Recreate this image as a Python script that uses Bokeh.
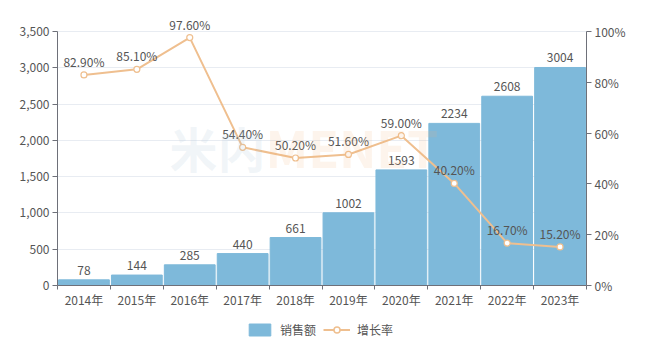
from bokeh.plotting import figure
from bokeh.layouts import column
from bokeh.models import (Range1d, LinearAxis, FixedTicker, NumeralTickFormatter,
                          ColumnDataSource, Legend, LegendItem, Label)
from bokeh.embed import file_html
from bokeh.resources import INLINE
from bokeh.core.properties import value

categories = ["2014年", "2015年", "2016年", "2017年", "2018年",
              "2019年", "2020年", "2021年", "2022年", "2023年"]
sales = [78, 144, 285, 440, 661, 1002, 1593, 2234, 2608, 3004]
growth = [82.9, 85.1, 97.6, 54.4, 50.2, 51.6, 59.0, 40.2, 16.7, 15.2]
left_ticks = [0, 500, 1000, 1500, 2000, 2500, 3000, 3500]
right_ticks = [0, 20, 40, 60, 80, 100]
series_names = ["销售额", "增长率"]

FONT = "Noto Sans CJK SC"
BAR = "#7EB9DA"
LINE = "#EFBF8F"
AX = "#6E7079"
TXT = "#555555"

# layout: axis top (3500 / 100%) at y=31, zero at y=285, frame top at y=8
PLOT_H = 285 - 8
AXIS_H = 285 - 31
left_max = left_ticks[-1]
right_max = right_ticks[-1]

idx = list(range(len(categories)))
src = ColumnDataSource(dict(
    x=[i + 0.5 for i in idx],
    sales=sales,
    sales_lbl=[str(v) for v in sales],
    growth=growth,
    growth_lbl=["%.2f%%" % v for v in growth],
))

p = figure(width=650, height=318, output_backend="svg", toolbar_location=None,
           x_range=Range1d(0, len(categories)),
           y_range=Range1d(0, left_max * PLOT_H / AXIS_H),
           min_border_left=57, min_border_right=64, min_border_top=8, min_border_bottom=33)
p.outline_line_color = None
p.background_fill_color = "white"
p.border_fill_color = "white"

p.extra_y_ranges = {"pct": Range1d(0, right_max * PLOT_H / AXIS_H)}

# watermark
p.add_layout(Label(x=112, y=104, x_units="screen", y_units="screen", text="米内",
                   text_font=FONT, text_font_size="48px", text_font_style="bold",
                   text_color="#A9C4D6", text_alpha=0.16))
p.add_layout(Label(x=208, y=104, x_units="screen", y_units="screen", text="MENET",
                   text_font=FONT, text_font_size="50px", text_font_style="bold",
                   text_color="#F4B27A", text_alpha=0.14))

bars = p.vbar(x="x", top="sales", width=0.96, source=src, color=BAR)
p.text(x="x", y="sales", text="sales_lbl", source=src, y_offset=-5,
       text_align="center", text_baseline="bottom", text_font=value(FONT),
       text_font_size="12px", text_color=TXT)

ln = p.line(x="x", y="growth", source=src, y_range_name="pct", color=LINE, line_width=2)
mk = p.scatter(x="x", y="growth", source=src, y_range_name="pct", size=6,
               line_color=LINE, fill_color="white", line_width=1.2)
p.text(x="x", y="growth", text="growth_lbl", source=src, y_range_name="pct", y_offset=-5,
       text_align="center", text_baseline="bottom", text_font=value(FONT),
       text_font_size="12px", text_color=TXT)

# axes
xa = p.xaxis[0]
xa.ticker = FixedTicker(ticks=[i + 0.5 for i in idx], minor_ticks=list(range(len(categories) + 1)))
xa.major_label_overrides = {i + 0.5: c for i, c in zip(idx, categories)}
xa.major_tick_line_color = None
xa.major_tick_out = 0
xa.major_tick_in = 0
xa.minor_tick_line_color = AX
xa.minor_tick_out = 4
xa.minor_tick_in = 0
xa.axis_line_color = AX
xa.major_label_text_font = FONT
xa.major_label_text_font_size = "12px"
xa.major_label_text_color = TXT
xa.major_label_standoff = 1

ya = p.yaxis[0]
ya.bounds = (0, left_max)
ya.ticker = FixedTicker(ticks=left_ticks)
ya.formatter = NumeralTickFormatter(format="0,0")
ya.axis_line_color = AX
ya.major_tick_line_color = AX
ya.major_tick_out = 5
ya.major_tick_in = 0
ya.minor_tick_line_color = None
ya.major_label_text_font = FONT
ya.major_label_text_font_size = "12px"
ya.major_label_text_color = TXT
ya.major_label_standoff = 3

ra = LinearAxis(y_range_name="pct", ticker=FixedTicker(ticks=right_ticks),
                bounds=(0, right_max))
ra.major_label_overrides = {t: "%d%%" % t for t in right_ticks}
ra.axis_line_color = AX
ra.major_tick_line_color = AX
ra.major_tick_out = 5
ra.major_tick_in = 0
ra.minor_tick_line_color = None
ra.major_label_text_font = FONT
ra.major_label_text_font_size = "12px"
ra.major_label_text_color = TXT
ra.major_label_standoff = 3
p.add_layout(ra, "right")

p.xgrid.grid_line_color = None
p.ygrid.grid_line_color = "#E8ECF2"
p.ygrid.ticker = FixedTicker(ticks=left_ticks)

# legend strip below the chart (series kept outside its visible ranges)
lg = figure(width=650, height=36, output_backend="svg", toolbar_location=None,
            x_axis_type=None, y_axis_type=None, min_border=0,
            x_range=Range1d(100, 110), y_range=Range1d(5000, 6000))
lg.outline_line_color = None
lg.grid.visible = False
lb = lg.vbar(x="x", top="sales", width=0.96, source=src, color=BAR)
ll = lg.line(x="x", y="growth", source=src, color=LINE, line_width=2)
lm = lg.scatter(x="x", y="growth", source=src, size=10, line_color=LINE,
                fill_color="white", line_width=1.5)
legend = Legend(items=[LegendItem(label=series_names[0], renderers=[lb]),
                       LegendItem(label=series_names[1], renderers=[ll, lm])],
                orientation="horizontal", location=(189, 16),
                label_text_font=FONT, label_text_font_size="12px", label_text_color=TXT,
                glyph_width=27, glyph_height=15, spacing=7, label_standoff=7,
                padding=2, margin=0,
                background_fill_alpha=0, border_line_color=None)
lg.add_layout(legend, "center")

layout = column(p, lg, spacing=0)
open("out.html", "w").write(file_html(layout, INLINE))
